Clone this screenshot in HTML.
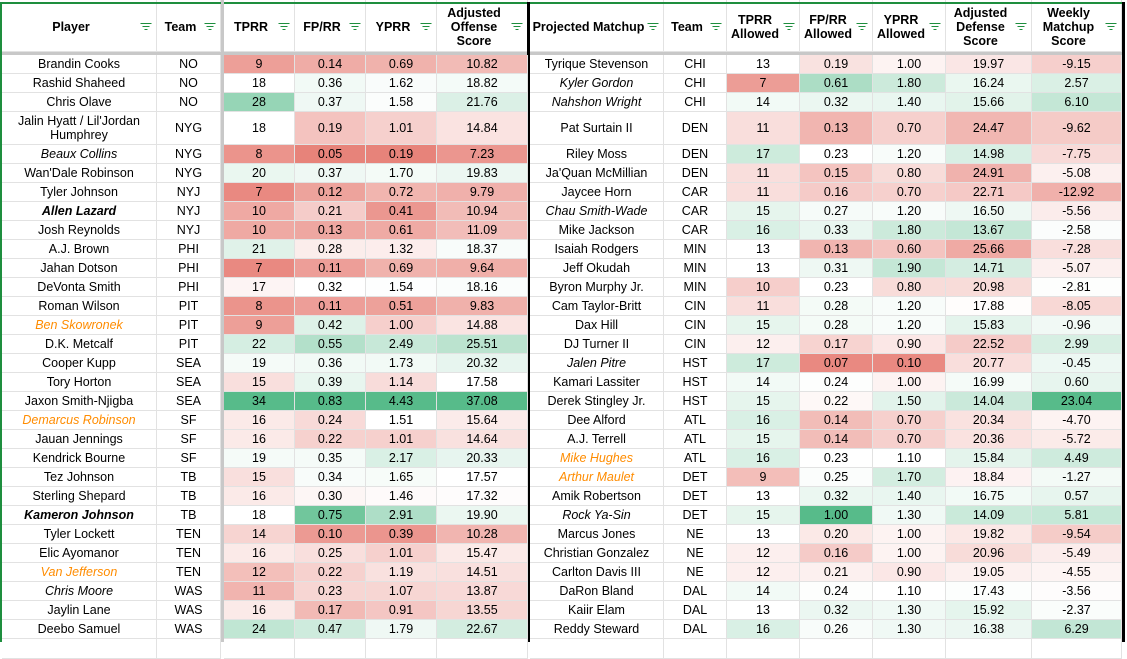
<!DOCTYPE html>
<html><head><meta charset="utf-8">
<style>
body{margin:0;width:1127px;height:642px;overflow:hidden;background:#fff;font-family:"Liberation Sans",Arial,sans-serif;font-size:12.5px;color:#000;position:relative}
.c{position:absolute;box-sizing:border-box;border-right:1px solid #e2e2e2;border-bottom:1px solid #e2e2e2;display:flex;align-items:center;justify-content:center;text-align:center;line-height:14px;white-space:nowrap}
.h{font-weight:bold;white-space:normal;line-height:14px;padding-right:16px}
.f{position:absolute;right:5px;top:50%;width:11px;height:8px;margin-top:-4px}
.f i{position:absolute;height:1.3px;background:#1e8e3e;left:50%;transform:translateX(-50%)}
.v{position:absolute;background:#000}
</style></head><body>
<div id="g"></div>
<script>
const L=[["Brandin Cooks","NO",9,.14,.69,10.82,""],["Rashid Shaheed","NO",18,.36,1.62,18.82,""],["Chris Olave","NO",28,.37,1.58,21.76,""],["Jalin Hyatt / Lil'Jordan<br>Humphrey","NYG",18,.19,1.01,14.84,""],["Beaux Collins","NYG",8,.05,.19,7.23,"i"],["Wan'Dale Robinson","NYG",20,.37,1.70,19.83,""],["Tyler Johnson","NYJ",7,.12,.72,9.79,""],["Allen Lazard","NYJ",10,.21,.41,10.94,"b"],["Josh Reynolds","NYJ",10,.13,.61,11.09,""],["A.J. Brown","PHI",21,.28,1.32,18.37,""],["Jahan Dotson","PHI",7,.11,.69,9.64,""],["DeVonta Smith","PHI",17,.32,1.54,18.16,""],["Roman Wilson","PIT",8,.11,.51,9.83,""],["Ben Skowronek","PIT",9,.42,1.00,14.88,"o"],["D.K. Metcalf","PIT",22,.55,2.49,25.51,""],["Cooper Kupp","SEA",19,.36,1.73,20.32,""],["Tory Horton","SEA",15,.39,1.14,17.58,""],["Jaxon Smith-Njigba","SEA",34,.83,4.43,37.08,""],["Demarcus Robinson","SF",16,.24,1.51,15.64,"o"],["Jauan Jennings","SF",16,.22,1.01,14.64,""],["Kendrick Bourne","SF",19,.35,2.17,20.33,""],["Tez Johnson","TB",15,.34,1.65,17.57,""],["Sterling Shepard","TB",16,.30,1.46,17.32,""],["Kameron Johnson","TB",18,.75,2.91,19.90,"b"],["Tyler Lockett","TEN",14,.10,.39,10.28,""],["Elic Ayomanor","TEN",16,.25,1.01,15.47,""],["Van Jefferson","TEN",12,.22,1.19,14.51,"o"],["Chris Moore","WAS",11,.23,1.07,13.87,"i"],["Jaylin Lane","WAS",16,.17,.91,13.55,""],["Deebo Samuel","WAS",24,.47,1.79,22.67,""]];
const R=[["Tyrique Stevenson","CHI",13,.19,1.00,19.97,-9.15,""],["Kyler Gordon","CHI",7,.61,1.80,16.24,2.57,"i"],["Nahshon Wright","CHI",14,.32,1.40,15.66,6.10,"i"],["Pat Surtain II","DEN",11,.13,.70,24.47,-9.62,""],["Riley Moss","DEN",17,.23,1.20,14.98,-7.75,""],["Ja'Quan McMillian","DEN",11,.15,.80,24.91,-5.08,""],["Jaycee Horn","CAR",11,.16,.70,22.71,-12.92,""],["Chau Smith-Wade","CAR",15,.27,1.20,16.50,-5.56,"i"],["Mike Jackson","CAR",16,.33,1.80,13.67,-2.58,""],["Isaiah Rodgers","MIN",13,.13,.60,25.66,-7.28,""],["Jeff Okudah","MIN",13,.31,1.90,14.71,-5.07,""],["Byron Murphy Jr.","MIN",10,.23,.80,20.98,-2.81,""],["Cam Taylor-Britt","CIN",11,.28,1.20,17.88,-8.05,""],["Dax Hill","CIN",15,.28,1.20,15.83,-.96,""],["DJ Turner II","CIN",12,.17,.90,22.52,2.99,""],["Jalen Pitre","HST",17,.07,.10,20.77,-.45,"i"],["Kamari Lassiter","HST",14,.24,1.00,16.99,.60,""],["Derek Stingley Jr.","HST",15,.22,1.50,14.04,23.04,""],["Dee Alford","ATL",16,.14,.70,20.34,-4.70,""],["A.J. Terrell","ATL",15,.14,.70,20.36,-5.72,""],["Mike Hughes","ATL",16,.23,1.10,15.84,4.49,"o"],["Arthur Maulet","DET",9,.25,1.70,18.84,-1.27,"o"],["Amik Robertson","DET",13,.32,1.40,16.75,.57,""],["Rock Ya-Sin","DET",15,1.00,1.30,14.09,5.81,"i"],["Marcus Jones","NE",13,.20,1.00,19.82,-9.54,""],["Christian Gonzalez","NE",12,.16,1.00,20.96,-5.49,""],["Carlton Davis III","NE",12,.21,.90,19.05,-4.55,""],["DaRon Bland","DAL",14,.24,1.10,17.43,-3.56,""],["Kaiir Elam","DAL",13,.32,1.30,15.92,-2.37,""],["Reddy Steward","DAL",16,.26,1.30,16.38,6.29,""]];
const g=document.getElementById('g');let h='';
function cell(x,y,w,hh,txt,cls,bg,sty){h+=`<div class="c ${cls||''}" style="left:${x}px;top:${y}px;width:${w}px;height:${hh}px;${bg?'background:'+bg+';':''}${sty||''}">${txt}</div>`;}
const filt='<span class="f"><i style="top:0;width:11px"></i><i style="top:3px;width:7px"></i><i style="top:6px;width:3px"></i></span>';
const H=["Player","Team","TPRR","FP/RR","YPRR","Adjusted Offense Score","Projected Matchup","Team","TPRR Allowed","FP/RR Allowed","YPRR Allowed","Adjusted Defense Score","Weekly Matchup Score"];
const W=[155,64,71,71,71,91,134,63,73,73,73,86,90];
const XS=[2,157,224,295,366,437,530,664,727,800,873,946,1032];
for(let i=0;i<13;i++){h+=`<div style="position:absolute;left:${XS[i]+W[i]-1}px;top:0;width:1px;height:3px;background:#e2e2e2"></div>`}
for(let i=0;i<13;i++){cell(XS[i],3,W[i],49,H[i]+filt,'h','',(i==6?'padding-left:0;':''))}
h+=`<div style="position:absolute;left:0;top:2px;width:1124px;height:1.5px;background:#1e8e3e"></div>`;
h+=`<div style="position:absolute;left:0;top:52px;width:1124px;height:3px;background:#c8c8c8"></div>`;
h+=`<div style="position:absolute;left:0;top:2px;width:1.5px;height:640px;background:#1e8e3e"></div>`;
h+=`<div style="position:absolute;left:221px;top:0;width:3px;height:642px;background:#c8c8c8"></div>`;
h+=`<div class="v" style="left:527px;top:2px;width:2.5px;height:640px"></div>`;
h+=`<div class="v" style="left:1122px;top:2px;width:2.5px;height:640px"></div>`;
function lerp(a,b,t){return a.map((v,i)=>Math.round(v+(b[i]-v)*t))}
const RED=[230,124,115],WH=[255,255,255],GR=[87,187,138];
function scale(vals,rev,lowF,highF,mid){lowF=lowF||1;highF=highF||1;const s=[...vals].sort((a,b)=>a-b);const mn=s[0],mx=s[s.length-1];const n=s.length;const md=mid!==undefined?mid:(n%2?s[(n-1)/2]:(s[n/2-1]+s[n/2])/2);
const lo=rev?GR:RED,hi=rev?RED:GR;
return vals.map(v=>{let c;if(v<=md){c=lerp(WH,lo,(md==mn?0:(md-v)/(md-mn))*lowF)}else{c=lerp(WH,hi,(v-md)/(mx-md)*highF)}return `rgb(${c})`})}
const Lc=[scale(L.map(r=>r[2]),0,0.9,1,18),scale(L.map(r=>r[3]),0,0.95,1,0.32),scale(L.map(r=>r[4]),0,0.95,1,1.51),scale(L.map(r=>r[5]),0,0.8,1,17.58)];
const Rc=[scale(R.map(r=>r[2]),0,0.75,0.3),scale(R.map(r=>r[3]),0,0.9,1),scale(R.map(r=>r[4]),0,0.9,0.35),scale(R.map(r=>r[5]),1,0.35,0.65),scale(R.map(r=>r[6]),0,0.6,1)];
const fmt=(v,k)=>k==2?String(v):v.toFixed(2);
function st(s){return s=='i'?'font-style:italic;':s=='b'?'font-weight:bold;font-style:italic;':s=='o'?'font-style:italic;color:#ff8c00;':''}
let y=55;
for(let r=0;r<30;r++){const hh=r==3?33:19;const a=L[r],b=R[r];
cell(2,y,155,hh,a[0],'','',st(a[6])+(r==3?'white-space:normal;':''));cell(157,y,64,hh,a[1]);
for(let k=2;k<6;k++)cell(XS[k],y,W[k],hh,fmt(a[k],k),'',Lc[k-2][r]);
cell(530,y,134,hh,b[0],'','',st(b[7]));cell(664,y,63,hh,b[1]);
for(let k=2;k<7;k++)cell(XS[k+6],y,W[k+6],hh,fmt(b[k],k),'',Rc[k-2][r]);
y+=hh;}
cell(2,y,155,20,'');cell(157,y,64,20,'');for(let k=2;k<13;k++)cell(XS[k],y,W[k],20,'');
g.innerHTML=h;
</script>
</body></html>
